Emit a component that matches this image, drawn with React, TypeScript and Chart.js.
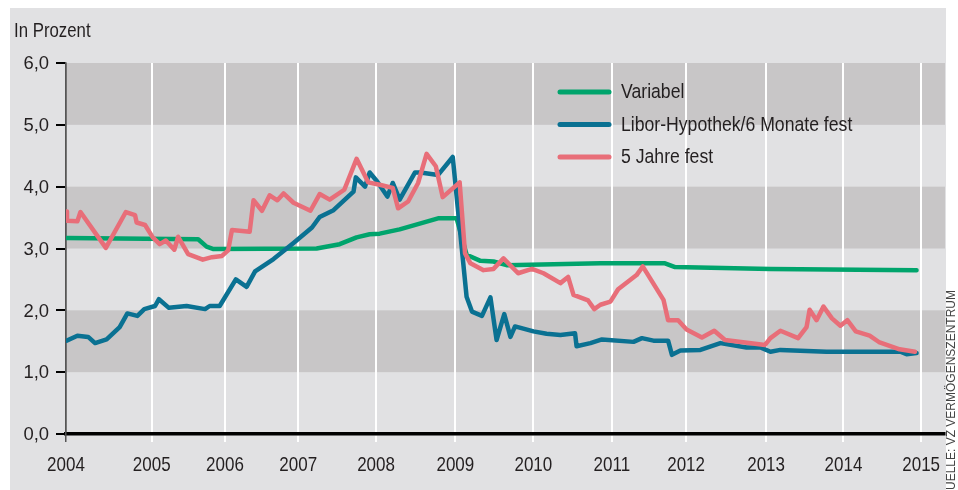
import React, { useEffect, useRef } from 'react';
import { Chart, registerables } from 'chart.js';

Chart.register(...registerables);

const FONT = '"Liberation Sans", Arial, sans-serif';
const TEXT = '#231f20';
const LIGHT = '#e1e1e3';
const DARK = '#c8c6c7';

// x axis in decimal years; the left edge is labelled 2004.
// Year gridlines as placed in the source graphic (slightly uneven spacing).
const X_MIN = 2003.882;
const X_MAX = 2015.31;
const X_TICK_POS = [X_MIN, 2004.996, 2005.949, 2006.902, 2007.913, 2008.944, 2009.958, 2010.978, 2011.944, 2012.984, 2013.99, 2015.0];
const X_TICK_LABELS = ['2004', '2005', '2006', '2007', '2008', '2009', '2010', '2011', '2012', '2013', '2014', '2015'];
const Y_TICKS = [0, 1, 2, 3, 4, 5, 6];
const DARK_BANDS = [[1, 2], [3, 4], [5, 6]];

const SERIES_LABELS = ['Variabel', 'Libor-Hypothek/6 Monate fest', '5 Jahre fest'];
const SERIES_COLORS = ['#00a46c', '#0a7192', '#e86e79'];

const VARIABEL_X = [2003.89, 2005.60, 2005.71, 2005.80, 2007.14, 2007.44, 2007.66, 2007.83, 2007.96, 2008.22, 2008.73, 2008.96, 2009.09, 2009.27, 2009.44, 2009.61, 2010.83, 2011.67, 2011.80, 2013.04, 2014.94];
const VARIABEL_Y = [3.17, 3.15, 3.03, 2.99, 3.00, 3.07, 3.18, 3.23, 3.24, 3.31, 3.49, 3.49, 2.90, 2.80, 2.79, 2.73, 2.76, 2.76, 2.70, 2.67, 2.65];

const LIBOR_X = [2003.89, 2004.03, 2004.17, 2004.26, 2004.41, 2004.58, 2004.68, 2004.81, 2004.90, 2005.04, 2005.09, 2005.22, 2005.45, 2005.69, 2005.75, 2005.88, 2006.09, 2006.23, 2006.34, 2006.58, 2006.84, 2007.08, 2007.18, 2007.36, 2007.62, 2007.65, 2007.77, 2007.83, 2007.93, 2008.06, 2008.13, 2008.22, 2008.42, 2008.49, 2008.72, 2008.91, 2009.09, 2009.16, 2009.29, 2009.40, 2009.48, 2009.58, 2009.66, 2009.72, 2009.96, 2010.13, 2010.31, 2010.50, 2010.52, 2010.70, 2010.85, 2011.26, 2011.37, 2011.52, 2011.71, 2011.76, 2011.87, 2012.13, 2012.39, 2012.73, 2012.91, 2013.04, 2013.17, 2013.77, 2014.73, 2014.81, 2014.94];
const LIBOR_Y = [1.51, 1.59, 1.57, 1.47, 1.53, 1.73, 1.95, 1.91, 2.02, 2.07, 2.18, 2.04, 2.07, 2.02, 2.07, 2.07, 2.50, 2.38, 2.63, 2.83, 3.09, 3.34, 3.51, 3.62, 3.92, 4.15, 4.00, 4.23, 4.08, 3.84, 4.06, 3.79, 4.23, 4.23, 4.19, 4.48, 2.22, 1.98, 1.91, 2.21, 1.52, 1.94, 1.57, 1.74, 1.66, 1.62, 1.60, 1.63, 1.42, 1.47, 1.53, 1.49, 1.55, 1.51, 1.51, 1.28, 1.35, 1.36, 1.47, 1.40, 1.40, 1.33, 1.36, 1.33, 1.33, 1.29, 1.31];

const FIX5_X = [2003.89, 2003.895, 2004.03, 2004.07, 2004.40, 2004.66, 2004.78, 2004.80, 2004.91, 2005.01, 2005.10, 2005.18, 2005.29, 2005.34, 2005.47, 2005.66, 2005.78, 2005.91, 2005.99, 2006.04, 2006.27, 2006.32, 2006.43, 2006.53, 2006.63, 2006.71, 2006.84, 2007.06, 2007.18, 2007.31, 2007.50, 2007.66, 2007.81, 2007.96, 2008.13, 2008.20, 2008.33, 2008.46, 2008.57, 2008.69, 2008.78, 2009.00, 2009.07, 2009.14, 2009.31, 2009.44, 2009.57, 2009.76, 2009.94, 2010.09, 2010.31, 2010.41, 2010.48, 2010.67, 2010.75, 2010.83, 2010.96, 2011.06, 2011.30, 2011.38, 2011.65, 2011.71, 2011.84, 2011.95, 2012.15, 2012.31, 2012.45, 2012.97, 2013.04, 2013.17, 2013.40, 2013.51, 2013.55, 2013.64, 2013.73, 2013.84, 2013.95, 2014.04, 2014.15, 2014.33, 2014.46, 2014.72, 2014.92];
const FIX5_Y = [3.60, 3.45, 3.44, 3.59, 3.01, 3.59, 3.54, 3.42, 3.38, 3.18, 3.07, 3.13, 2.98, 3.19, 2.91, 2.82, 2.86, 2.88, 2.97, 3.30, 3.27, 3.78, 3.61, 3.86, 3.78, 3.89, 3.74, 3.61, 3.88, 3.79, 3.95, 4.45, 4.07, 4.03, 3.98, 3.65, 3.76, 4.06, 4.53, 4.33, 3.83, 4.07, 2.92, 2.76, 2.65, 2.67, 2.84, 2.60, 2.67, 2.60, 2.44, 2.54, 2.25, 2.16, 2.02, 2.09, 2.14, 2.34, 2.57, 2.71, 2.17, 1.84, 1.84, 1.69, 1.56, 1.67, 1.52, 1.44, 1.55, 1.67, 1.55, 1.73, 2.01, 1.84, 2.06, 1.87, 1.75, 1.84, 1.66, 1.59, 1.48, 1.37, 1.33];

const toPoints = (xs: number[], ys: number[]) => xs.map((x, i) => ({ x, y: ys[i] }));

// draw horizontally condensed text (no condensed font is installed)
function condensedText(
  ctx: CanvasRenderingContext2D,
  text: string,
  x: number,
  y: number,
  size: number,
  sx: number,
  align: CanvasTextAlign,
  color: string
) {
  ctx.save();
  ctx.translate(x, y);
  ctx.scale(sx, 1);
  ctx.font = `${size}px ${FONT}`;
  ctx.fillStyle = color;
  ctx.textAlign = align;
  ctx.textBaseline = 'middle';
  ctx.fillText(text, 0, 0);
  ctx.restore();
}

export default function App() {
  const ref = useRef<HTMLCanvasElement>(null);

  useEffect(() => {
    if (!ref.current) return;

    const decorPlugin = {
      id: 'decor',
      beforeDraw(chart: any) {
        const { ctx, chartArea, scales } = chart;
        const y = scales.y;
        ctx.save();
        ctx.fillStyle = '#ffffff';
        ctx.fillRect(0, 0, chart.width, chart.height);
        ctx.fillStyle = LIGHT;
        ctx.fillRect(10, 8, chartArea.right + 1 - 10, chart.height - 8);
        ctx.fillStyle = DARK;
        DARK_BANDS.forEach(([a, b]) => {
          const top = y.getPixelForValue(b);
          const bot = y.getPixelForValue(a);
          ctx.fillRect(chartArea.left, top, chartArea.right - chartArea.left, bot - top);
        });
        ctx.restore();
        // header
        condensedText(ctx, 'In Prozent', 14, 31, 21, 0.8, 'left', TEXT);
        // source, vertical
        ctx.save();
        ctx.translate(952, 290);
        ctx.rotate(-Math.PI / 2);
        ctx.fillStyle = '#444';
        ctx.font = `12px ${FONT}`;
        ctx.textAlign = 'right';
        ctx.textBaseline = 'middle';
        ctx.fillText('QUELLE: VZ VERMÖGENSZENTRUM', 0, 0);
        ctx.restore();
      },
      afterDraw(chart: any) {
        const { ctx, scales } = chart;
        // axis labels
        scales.x.ticks.forEach((t: any, i: number) => {
          condensedText(ctx, X_TICK_LABELS[i], scales.x.getPixelForValue(t.value), 465, 21, 0.81, 'center', TEXT);
        });
        scales.y.ticks.forEach((t: any) => {
          const lbl = Number(t.value).toFixed(1).replace('.', ',');
          condensedText(ctx, lbl, 49, scales.y.getPixelForValue(t.value) + 1, 19, 0.97, 'right', TEXT);
        });
        // legend
        const rows = [92, 124.5, 157];
        chart.data.datasets.forEach((ds: any, i: number) => {
          const yy = rows[i];
          ctx.save();
          ctx.strokeStyle = ds.borderColor;
          ctx.lineWidth = 5;
          ctx.lineCap = 'round';
          ctx.beginPath();
          ctx.moveTo(560, yy);
          ctx.lineTo(609, yy);
          ctx.stroke();
          ctx.restore();
          condensedText(ctx, ds.label, 621, yy + 0.5, 20.5, 0.86, 'left', TEXT);
        });
      },
    };

    const xs = [VARIABEL_X, LIBOR_X, FIX5_X];
    const ys = [VARIABEL_Y, LIBOR_Y, FIX5_Y];

    const chart = new Chart(ref.current, {
      type: 'line',
      data: {
        datasets: SERIES_LABELS.map((label, i) => ({
          label,
          data: toPoints(xs[i], ys[i]),
          borderColor: SERIES_COLORS[i],
          backgroundColor: SERIES_COLORS[i],
          borderWidth: 4.5,
          pointRadius: 0,
          tension: 0,
          fill: false,
          borderJoinStyle: 'round',
          borderCapStyle: 'round',
          order: 2 - i,
        })),
      },
      options: {
        animation: false,
        responsive: false,
        devicePixelRatio: 1,
        layout: { padding: { left: 0, top: 63, right: 13, bottom: 0 } },
        plugins: { legend: { display: false }, tooltip: { enabled: false } },
        scales: {
          x: {
            type: 'linear',
            min: X_MIN,
            max: X_MAX,
            afterBuildTicks: (s: any) => {
              s.ticks = X_TICK_POS.map((v) => ({ value: v }));
            },
            afterFit: (s: any) => {
              s.height = 56;
            },
            ticks: {
              autoSkip: false,
              maxRotation: 0,
              padding: 8,
              color: 'rgba(0,0,0,0)',
              font: { family: FONT, size: 16 },
              callback: (_v: any, i: number) => X_TICK_LABELS[i],
            },
            grid: {
              color: (c: any) => (c.index === 0 ? '#555' : '#ffffff'),
              lineWidth: (c: any) => (c.index === 0 ? 1.5 : 2),
              tickLength: 8,
              drawOnChartArea: true,
              drawTicks: true,
            },
            border: { display: true, color: '#000', width: 3.5 },
          },
          y: {
            type: 'linear',
            min: 0,
            max: 6,
            afterBuildTicks: (s: any) => {
              s.ticks = Y_TICKS.map((v) => ({ value: v }));
            },
            afterFit: (s: any) => {
              s.width = 66;
            },
            ticks: {
              padding: 6,
              color: 'rgba(0,0,0,0)',
              font: { family: FONT, size: 16 },
              callback: (v: any) => Number(v).toFixed(1).replace('.', ','),
            },
            grid: {
              drawOnChartArea: false,
              drawTicks: true,
              tickLength: 10,
              color: '#000',
              lineWidth: 2,
            },
            border: { display: true, color: '#555', width: 1.5 },
          },
        },
      },
      plugins: [decorPlugin],
    } as any);

    return () => chart.destroy();
  }, []);

  return (
    <div style={{ position: 'absolute', left: 0, top: 0, width: 958, height: 490 }}>
      <canvas ref={ref} width={958} height={490} style={{ display: 'block', width: 958, height: 490 }} />
    </div>
  );
}
